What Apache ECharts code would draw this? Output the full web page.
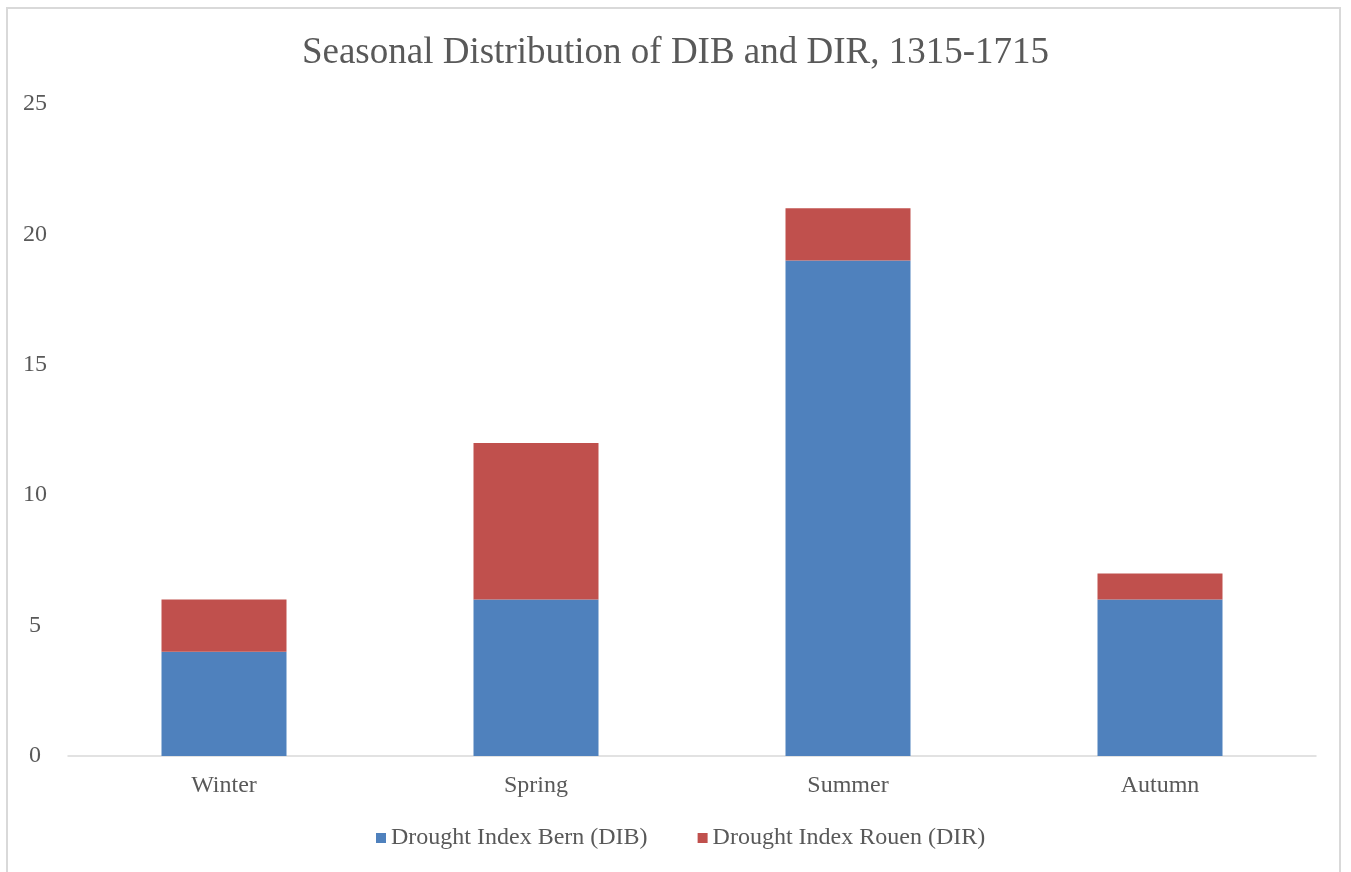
<!DOCTYPE html>
<html><head><meta charset="utf-8">
<script src="https://cdn.jsdelivr.net/npm/echarts@6/dist/echarts.min.js"></script>
<style>
html,body{margin:0;padding:0;background:#fff;overflow:hidden;}
#frame{position:absolute;left:6px;top:7px;width:1335px;height:880px;border:2px solid #d9d9d9;box-sizing:border-box;}
#c{position:absolute;left:0;top:0;width:1351px;height:872px;}
</style></head><body>
<div id="frame"></div>
<div id="c"></div>
<script>
const categories = ['Winter', 'Spring', 'Summer', 'Autumn'];
const dibValues = [4, 6, 19, 6];
const dirValues = [2, 6, 2, 1];
const seriesNames = ['Drought Index Bern (DIB)', 'Drought Index Rouen (DIR)'];
const titleText = 'Seasonal Distribution of DIB and DIR, 1315-1715';

const font = '"Liberation Serif", "Times New Roman", serif';
const chart = echarts.init(document.getElementById('c'));
chart.setOption({
  animation: false,
  backgroundColor: 'transparent',
  title: {
    text: titleText, left: 'center', top: 30,
    textStyle: { fontFamily: font, fontSize: 37, fontWeight: 'normal', color: '#595959' }
  },
  legend: {
    bottom: 17, left: 371, itemWidth: 10, itemHeight: 10, itemGap: 50,
    icon: 'rect',
    textStyle: { fontFamily: font, fontSize: 24, color: '#595959' },
    data: seriesNames
  },
  grid: { left: 68, right: 35, top: 104, bottom: 116, containLabel: false },
  xAxis: {
    type: 'category', data: categories,
    axisLine: { lineStyle: { color: '#d9d9d9', width: 1.5 } },
    axisTick: { show: false },
    axisLabel: { fontFamily: font, fontSize: 24, color: '#595959', margin: 18 }
  },
  yAxis: {
    type: 'value', min: 0, max: 25, interval: 5,
    splitLine: { show: false },
    axisLine: { show: false }, axisTick: { show: false },
    axisLabel: { fontFamily: font, fontSize: 24, color: '#595959', margin: 33, align: 'center' }
  },
  series: [
    { name: seriesNames[0], type: 'bar', stack: 's', data: dibValues, barWidth: 125,
      itemStyle: { color: '#4f81bd' } },
    { name: seriesNames[1], type: 'bar', stack: 's', data: dirValues, barWidth: 125,
      itemStyle: { color: '#c0504d' } }
  ]
});
</script>
</body></html>
